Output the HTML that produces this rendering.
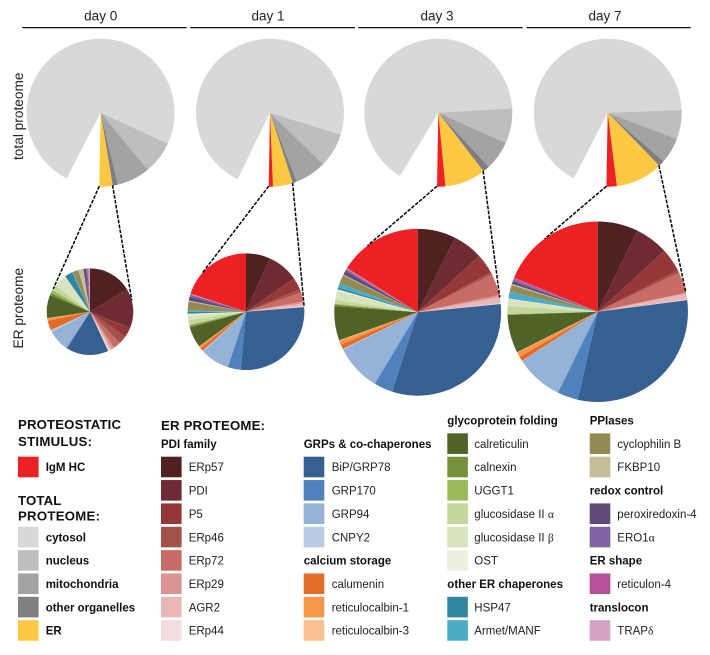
<!DOCTYPE html>
<html lang="en">
<head>
<meta charset="utf-8">
<title>Proteome composition pies</title>
<style>
html,body{margin:0;padding:0;background:#fff;}
svg{display:block;font-family:"Liberation Sans",sans-serif;filter:blur(0.3px);}
text{fill:#222;}
.hdr{font-size:13.5px;text-anchor:middle;}
.side{font-size:13.7px;}
.h1{font-size:13.2px;font-weight:bold;fill:#111;}
.h2{font-size:11.5px;font-weight:bold;fill:#111;}
.lb{font-size:11.5px;}
.lbb{font-size:11.5px;font-weight:bold;fill:#111;}
.gr{font-family:"Liberation Serif",serif;}
.c-unassigned{fill:#fff;}
.c-cytosol{fill:#D8D8D8;}.c-nucleus{fill:#BEBEBE;}.c-mitochondria{fill:#A3A3A3;}.c-other-organelles{fill:#7F7F7F;}.c-er{fill:#FFC842;}
.c-igm-hc{fill:#ED2024;}
.c-erp57{fill:#4F2120;}.c-pdi{fill:#6E2B33;}.c-p5{fill:#953837;}.c-erp46{fill:#A2524B;}.c-erp72{fill:#C96C66;}.c-erp29{fill:#DC9493;}.c-agr2{fill:#E8B8B9;}.c-erp44{fill:#F2DCDD;}
.c-bip-grp78{fill:#366092;}.c-grp170{fill:#4F81BD;}.c-grp94{fill:#95B3D7;}.c-cnpy2{fill:#B8CCE4;}
.c-calumenin{fill:#E46C26;}.c-reticulocalbin-1{fill:#F79646;}.c-reticulocalbin-3{fill:#FAC090;}
.c-calreticulin{fill:#4F6228;}.c-calnexin{fill:#76933C;}.c-uggt1{fill:#9BBB59;}.c-glucosidase-ii-alpha{fill:#C3D69B;}.c-glucosidase-ii-beta{fill:#D7E4BD;}.c-ost{fill:#EBF1DE;}
.c-hsp47{fill:#31859C;}.c-armet-manf{fill:#4BACC6;}
.c-cyclophilin-b{fill:#948A54;}.c-fkbp10{fill:#C4BD97;}
.c-peroxiredoxin-4{fill:#604A7B;}.c-ero1-alpha{fill:#8064A2;}.c-reticulon-4{fill:#B6509A;}.c-trap-delta{fill:#D6A2C8;}
</style>
</head>
<body>
<svg id="chart" width="710" height="655" viewBox="0 0 710 655" xmlns="http://www.w3.org/2000/svg">
  <rect width="710" height="655" fill="#fff"/>

  <g>
    <text class="hdr" x="100.7" y="20.5">day 0</text>
    <text class="hdr" x="268" y="20.5">day 1</text>
    <text class="hdr" x="437" y="20.5">day 3</text>
    <text class="hdr" x="605" y="20.5">day 7</text>
    <line x1="22.3" x2="186.7" y1="27.6" y2="27.6" stroke="#111" stroke-width="1.3"/>
    <line x1="190.3" x2="355" y1="27.6" y2="27.6" stroke="#111" stroke-width="1.3"/>
    <line x1="358.3" x2="522.7" y1="27.6" y2="27.6" stroke="#111" stroke-width="1.3"/>
    <line x1="526.7" x2="690.7" y1="27.6" y2="27.6" stroke="#111" stroke-width="1.3"/>
  </g>

  <text class="side" transform="translate(23 160) rotate(-90)">total proteome</text>
  <text class="side" transform="translate(23 348.5) rotate(-90)">ER proteome</text>

  <g id="panel-0" data-tx="100.6" data-ty="112.7" data-ex="90" data-ey="311.7" data-la="301.8" data-ra="74.7"></g>
  <g id="panel-1" data-tx="270" data-ty="112.7" data-ex="246" data-ey="311.7" data-la="311.4" data-ra="84.4"></g>
  <g id="panel-2" data-tx="438.3" data-ty="112.7" data-ex="417.7" data-ey="312.3" data-la="323" data-ra="79.7"></g>
  <g id="panel-3" data-tx="607.7" data-ty="112.7" data-ex="597.7" data-ey="311.7" data-la="324" data-ra="77.3"></g>

  <g>
    <g>
      <text class="h1" x="18" y="429" textLength="103" lengthAdjust="spacing">PROTEOSTATIC</text>
      <text class="h1" x="18" y="446" textLength="74" lengthAdjust="spacing">STIMULUS:</text>
      <g><rect class="c-igm-hc" x="18" y="456.7" width="20.6" height="20.6"/><text class="lbb" x="45.7" y="471.2">IgM HC</text></g>
    </g>
    <g>
      <text class="h1" x="18" y="505" textLength="43.3" lengthAdjust="spacing">TOTAL</text>
      <text class="h1" x="18" y="520.7" textLength="82" lengthAdjust="spacing">PROTEOME:</text>
      <g><rect class="c-cytosol" x="18" y="526.75" width="20.6" height="20.6"/><text class="lbb" x="45.7" y="541.25">cytosol</text></g>
      <g><rect class="c-nucleus" x="18" y="550.1" width="20.6" height="20.6"/><text class="lbb" x="45.7" y="564.6">nucleus</text></g>
      <g><rect class="c-mitochondria" x="18" y="573.45" width="20.6" height="20.6"/><text class="lbb" x="45.7" y="587.95">mitochondria</text></g>
      <g><rect class="c-other-organelles" x="18" y="596.8" width="20.6" height="20.6"/><text class="lbb" x="45.7" y="611.3">other organelles</text></g>
      <g><rect class="c-er" x="18" y="620.15" width="20.6" height="20.6"/><text class="lbb" x="45.7" y="634.65">ER</text></g>
    </g>
    <g>
      <text class="h1" x="161" y="430" textLength="104" lengthAdjust="spacing">ER PROTEOME:</text>
      <text class="h2" x="161" y="447.85">PDI family</text>
      <g><rect class="c-erp57" x="161" y="456.7" width="20.6" height="20.6"/><text class="lb" x="188.7" y="471.2">ERp57</text></g>
      <g><rect class="c-pdi" x="161" y="480.05" width="20.6" height="20.6"/><text class="lb" x="188.7" y="494.55">PDI</text></g>
      <g><rect class="c-p5" x="161" y="503.4" width="20.6" height="20.6"/><text class="lb" x="188.7" y="517.9">P5</text></g>
      <g><rect class="c-erp46" x="161" y="526.75" width="20.6" height="20.6"/><text class="lb" x="188.7" y="541.25">ERp46</text></g>
      <g><rect class="c-erp72" x="161" y="550.1" width="20.6" height="20.6"/><text class="lb" x="188.7" y="564.6">ERp72</text></g>
      <g><rect class="c-erp29" x="161" y="573.45" width="20.6" height="20.6"/><text class="lb" x="188.7" y="587.95">ERp29</text></g>
      <g><rect class="c-agr2" x="161" y="596.8" width="20.6" height="20.6"/><text class="lb" x="188.7" y="611.3">AGR2</text></g>
      <g><rect class="c-erp44" x="161" y="620.15" width="20.6" height="20.6"/><text class="lb" x="188.7" y="634.65">ERp44</text></g>
    </g>
    <g>
      <text class="h2" x="303.7" y="447.85">GRPs &amp; co-chaperones</text>
      <g><rect class="c-bip-grp78" x="303.7" y="456.7" width="20.6" height="20.6"/><text class="lb" x="331.7" y="471.2">BiP/GRP78</text></g>
      <g><rect class="c-grp170" x="303.7" y="480.05" width="20.6" height="20.6"/><text class="lb" x="331.7" y="494.55">GRP170</text></g>
      <g><rect class="c-grp94" x="303.7" y="503.4" width="20.6" height="20.6"/><text class="lb" x="331.7" y="517.9">GRP94</text></g>
      <g><rect class="c-cnpy2" x="303.7" y="526.75" width="20.6" height="20.6"/><text class="lb" x="331.7" y="541.25">CNPY2</text></g>
      <text class="h2" x="303.7" y="564.6">calcium storage</text>
      <g><rect class="c-calumenin" x="303.7" y="573.45" width="20.6" height="20.6"/><text class="lb" x="331.7" y="587.95">calumenin</text></g>
      <g><rect class="c-reticulocalbin-1" x="303.7" y="596.8" width="20.6" height="20.6"/><text class="lb" x="331.7" y="611.3">reticulocalbin-1</text></g>
      <g><rect class="c-reticulocalbin-3" x="303.7" y="620.15" width="20.6" height="20.6"/><text class="lb" x="331.7" y="634.65">reticulocalbin-3</text></g>
    </g>
    <g>
      <text class="h2" x="447.3" y="424.5">glycoprotein folding</text>
      <g><rect class="c-calreticulin" x="447.3" y="433.35" width="20.6" height="20.6"/><text class="lb" x="474.3" y="447.85">calreticulin</text></g>
      <g><rect class="c-calnexin" x="447.3" y="456.7" width="20.6" height="20.6"/><text class="lb" x="474.3" y="471.2">calnexin</text></g>
      <g><rect class="c-uggt1" x="447.3" y="480.05" width="20.6" height="20.6"/><text class="lb" x="474.3" y="494.55">UGGT1</text></g>
      <g><rect class="c-glucosidase-ii-alpha" x="447.3" y="503.4" width="20.6" height="20.6"/><text class="lb" x="474.3" y="517.9">glucosidase II <tspan class="gr">α</tspan></text></g>
      <g><rect class="c-glucosidase-ii-beta" x="447.3" y="526.75" width="20.6" height="20.6"/><text class="lb" x="474.3" y="541.25">glucosidase II <tspan class="gr">β</tspan></text></g>
      <g><rect class="c-ost" x="447.3" y="550.1" width="20.6" height="20.6"/><text class="lb" x="474.3" y="564.6">OST</text></g>
      <text class="h2" x="447.3" y="587.95">other ER chaperones</text>
      <g><rect class="c-hsp47" x="447.3" y="596.8" width="20.6" height="20.6"/><text class="lb" x="474.3" y="611.3">HSP47</text></g>
      <g><rect class="c-armet-manf" x="447.3" y="620.15" width="20.6" height="20.6"/><text class="lb" x="474.3" y="634.65">Armet/MANF</text></g>
    </g>
    <g>
      <text class="h2" x="589.7" y="424.5">PPIases</text>
      <g><rect class="c-cyclophilin-b" x="589.7" y="433.35" width="20.6" height="20.6"/><text class="lb" x="617.3" y="447.85">cyclophilin B</text></g>
      <g><rect class="c-fkbp10" x="589.7" y="456.7" width="20.6" height="20.6"/><text class="lb" x="617.3" y="471.2">FKBP10</text></g>
      <text class="h2" x="589.7" y="494.55">redox control</text>
      <g><rect class="c-peroxiredoxin-4" x="589.7" y="503.4" width="20.6" height="20.6"/><text class="lb" x="617.3" y="517.9">peroxiredoxin-4</text></g>
      <g><rect class="c-ero1-alpha" x="589.7" y="526.75" width="20.6" height="20.6"/><text class="lb" x="617.3" y="541.25">ERO1<tspan class="gr">α</tspan></text></g>
      <text class="h2" x="589.7" y="564.6">ER shape</text>
      <g><rect class="c-reticulon-4" x="589.7" y="573.45" width="20.6" height="20.6"/><text class="lb" x="617.3" y="587.95">reticulon-4</text></g>
      <text class="h2" x="589.7" y="611.3">translocon</text>
      <g><rect class="c-trap-delta" x="589.7" y="620.15" width="20.6" height="20.6"/><text class="lb" x="617.3" y="634.65">TRAP<tspan class="gr">δ</tspan></text></g>
    </g>
  </g>
</svg>
<script>
// Categories, clockwise. Total pies begin at TOTAL_START; ER pies begin at 12 o'clock.
var days = ['day 0', 'day 1', 'day 3', 'day 7'];
var totalCategories = ['unassigned', 'cytosol', 'nucleus', 'mitochondria', 'other organelles', 'ER', 'IgM HC'];
var erCategories = ['ERp57', 'PDI', 'P5', 'ERp46', 'ERp72', 'ERp29', 'AGR2', 'ERp44',
  'BiP GRP78', 'GRP170', 'GRP94', 'CNPY2', 'calumenin', 'reticulocalbin-1', 'reticulocalbin-3',
  'calreticulin', 'calnexin', 'UGGT1', 'glucosidase II alpha', 'glucosidase II beta', 'OST',
  'HSP47', 'Armet MANF', 'cyclophilin B', 'FKBP10', 'peroxiredoxin-4', 'ERO1 alpha',
  'reticulon-4', 'TRAP delta', 'IgM HC'];

// Relative shares.
var totalDay0 = [26.4, 267.3, 25.7, 26.2, 4.0, 10.4, 0];
var totalDay1 = [25.0, 261.3, 26.9, 24.7, 3.2, 15.6, 3.3];
var totalDay3 = [30.1, 235.5, 27.7, 22.7, 5.4, 32.1, 6.5];
var totalDay7 = [26.3, 240.6, 22.9, 20.3, 4.7, 37.1, 8.1];

var erDay0 = [58.7, 53.4, 13.5, 11, 9.7, 3.7, 3, 2.2, 56.6, 1.6, 28.6, 2.8, 12.9, 3.3, 0.5, 31.1, 3.4, 4, 7, 16.9, 1.1, 10.6, 1.4, 7.4, 6.8, 3.5, 2.3, 1, 2, 0];
var erDay1 = [24, 31.3, 12.2, 3.1, 9.4, 1.7, 2.8, 1, 99.8, 12.8, 28.8, 1.1, 3.4, 1.9, 0.2, 20.7, 1.8, 1, 4.7, 4.6, 1.7, 2, 1, 9, 1, 4.1, 1.9, 0.5, 0.5, 72];
var erDay3 = [26.8, 20.7, 13.8, 1.7, 14.9, 1.7, 4.2, 0.5, 113.6, 13.1, 32.4, 0.6, 3.2, 2.8, 0.4, 23.9, 1.2, 0.5, 2.5, 6.5, 1, 1.4, 2.9, 6.1, 0.6, 2.8, 1, 0.7, 0.5, 58];
var erDay7 = [26.1, 21.5, 15.1, 1.8, 13.4, 0.6, 3.7, 0.4, 110.2, 13.4, 30.6, 0.2, 3, 2.9, 0.4, 24.6, 0.4, 0.3, 5, 4.4, 0.5, 0.4, 3.9, 4.4, 0.8, 1.8, 1.2, 0.8, 0.2, 68];

var totalSeries = [totalDay0, totalDay1, totalDay3, totalDay7];
var erSeries = [erDay0, erDay1, erDay3, erDay7];

var SVG_NS = 'http://www.w3.org/2000/svg';
var TOTAL_RADIUS = 74;
var TOTAL_START = 181;
var ER_AREA_SCALE = 25.47;

function slug(s) {
  return s.toLowerCase().replace(/[^a-z0-9]+/g, '-');
}
function sum(a) {
  return a.reduce(function (p, c) { return p + c; }, 0);
}
function angleScale(values) {
  var t = sum(values);
  return function (v) { return v / t * 360; };
}
function polar(cx, cy, r, deg) {
  var a = deg * Math.PI / 180;
  return [cx + r * Math.sin(a), cy - r * Math.cos(a)];
}
function arcPath(cx, cy, r, a0, a1) {
  var p0 = polar(cx, cy, r, a0);
  var p1 = polar(cx, cy, r, a1);
  var large = (a1 - a0) > 180 ? 1 : 0;
  return 'M' + cx + ',' + cy + 'L' + p0[0].toFixed(2) + ',' + p0[1].toFixed(2) +
    'A' + r + ',' + r + ' 0 ' + large + ' 1 ' + p1[0].toFixed(2) + ',' + p1[1].toFixed(2) + 'Z';
}
function drawPie(parent, cx, cy, r, start, values, categories, prefix) {
  var scale = angleScale(values);
  var angle = start;
  var bounds = {};
  values.forEach(function (v, i) {
    var sweep = scale(v);
    bounds[categories[i]] = [angle, angle + sweep];
    if (sweep > 0) {
      var path = document.createElementNS(SVG_NS, 'path');
      path.setAttribute('d', arcPath(cx, cy, r, angle, angle + sweep));
      path.setAttribute('class', 'c-' + slug(categories[i]));
      
      
      parent.appendChild(path);
    }
    angle += sweep;
  });
  return bounds;
}
function drawDash(parent, from, to, name) {
  var line = document.createElementNS(SVG_NS, 'line');
  line.setAttribute('x1', from[0].toFixed(2));
  line.setAttribute('y1', from[1].toFixed(2));
  line.setAttribute('x2', to[0].toFixed(2));
  line.setAttribute('y2', to[1].toFixed(2));
  line.setAttribute('stroke', '#000');
  line.setAttribute('stroke-width', '1.5');
  line.setAttribute('stroke-dasharray', '3.6 1.4');
  
  
  parent.appendChild(line);
}

days.forEach(function (day, i) {
  var g = document.getElementById('panel-' + i);
  var d = g.dataset;
  var tx = +d.tx, ty = +d.ty, ex = +d.ex, ey = +d.ey;
  var total = totalSeries[i];
  var er = erSeries[i];
  var dayKey = slug(day);

  var bounds = drawPie(g, tx, ty, TOTAL_RADIUS, TOTAL_START, total, totalCategories, dayKey + '-total');

  var erShare = (total[totalCategories.indexOf('ER')] + total[totalCategories.indexOf('IgM HC')]) / sum(total) * 100;
  var erRadius = ER_AREA_SCALE * Math.sqrt(erShare);
  drawPie(g, ex, ey, erRadius, 0, er, erCategories, dayKey + '-er');

  var erStart = bounds['ER'][0];
  var erEnd = bounds['IgM HC'][1];
  drawDash(g, polar(tx, ty, TOTAL_RADIUS - 0.5, erEnd), polar(ex, ey, erRadius, +d.la), dayKey + '-zoom-line-left');
  drawDash(g, polar(tx, ty, TOTAL_RADIUS - 0.5, erStart), polar(ex, ey, erRadius, +d.ra), dayKey + '-zoom-line-right');
});
</script>
</body>
</html>
